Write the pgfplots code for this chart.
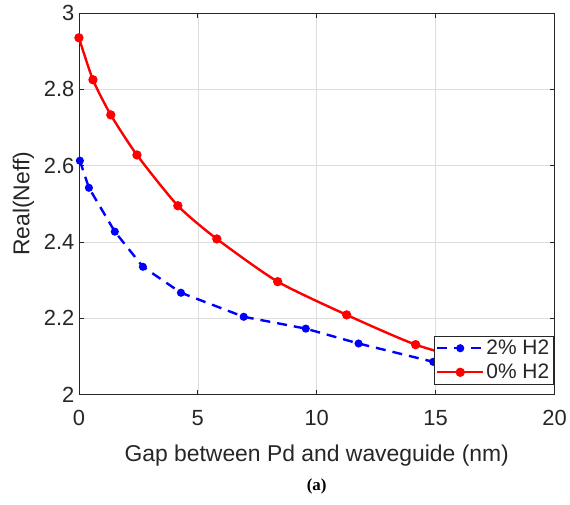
\documentclass[border=0pt]{standalone}
\usepackage{pgfplots}
\pgfplotsset{compat=1.18}
\usepackage{fontspec}
\setmainfont{Liberation Sans}
\newfontfamily\capfont{Liberation Serif}
\definecolor{axgray}{RGB}{38,38,38}
\definecolor{gridgray}{RGB}{222,222,222}
\begin{document}
\begin{tikzpicture}
\begin{axis}[
  scale only axis,
  width=476bp, height=382bp,
  xmin=0, xmax=20, ymin=2, ymax=3,
  xtick={0,5,10,15,20},
  ytick={2,2.2,2.4,2.6,2.8,3},
  yticklabels={2,2.2,2.4,2.6,2.8,3},
  xticklabels={0,5,10,15,20},
  tick align=inside,
  major tick length=5bp,
  axis line style={axgray, line width=0.8bp},
  tick style={axgray, line width=0.8bp},
  grid=major,
  major grid style={gridgray, line width=0.6bp},
  ticklabel style={font=\fontsize{22}{26}\selectfont, text=axgray},
  xticklabel style={yshift=-12bp},
  yticklabel style={xshift=-1bp},
  /pgf/number format/assume math mode=true,
  xlabel={Gap between Pd and waveguide (nm)},
  ylabel={Real(Neff)},
  label style={font=\fontsize{23}{27}\selectfont, text=axgray},
  xlabel style={yshift=-12bp},
  ylabel style={yshift=3bp},
  legend style={at={(0.998,0.026)}, anchor=south east, draw=axgray, line width=0.8bp,
    font=\fontsize{21}{25}\selectfont, text=axgray, fill=white,
    inner sep=2bp, row sep=4bp},
  legend cell align=left,
  legend image code/.code={
    \draw[#1] (0bp,0bp) -- (46bp,0bp);
    \draw[#1, solid, mark repeat=1] plot coordinates {(23bp,0bp)};
  },
]
\addplot[blue, line width=2.4bp, dash pattern=on 10bp off 7bp,
  mark=*, mark size=2.8bp, mark options={solid, fill=blue}] coordinates {
  (0.04,2.613) (0.42,2.542) (1.51,2.427) (2.69,2.335) (4.29,2.267)
  (6.93,2.204) (9.54,2.173) (11.76,2.134) (14.9,2.086) (17.5,2.05)
};
\addlegendentry{2\% H2}
\addplot[red, line width=2.4bp, smooth, tension=0.4,
  mark=*, mark size=3.4bp, mark options={solid, fill=red}] coordinates {
  (0,2.935) (0.59,2.825) (1.34,2.733) (2.44,2.628) (4.16,2.495)
  (5.8,2.408) (8.36,2.296) (11.26,2.209) (14.16,2.131) (17.0,2.08)
};
\addlegendentry{0\% H2}
\end{axis}
\path ([xshift=-79bp,yshift=-110bp]current axis.south west) rectangle ([xshift=15bp,yshift=13bp]current axis.north east);
\node[font=\capfont\bfseries\fontsize{17}{20}\selectfont] at ([yshift=-92bp]current axis.south) {(a)};
\end{tikzpicture}
\end{document}
